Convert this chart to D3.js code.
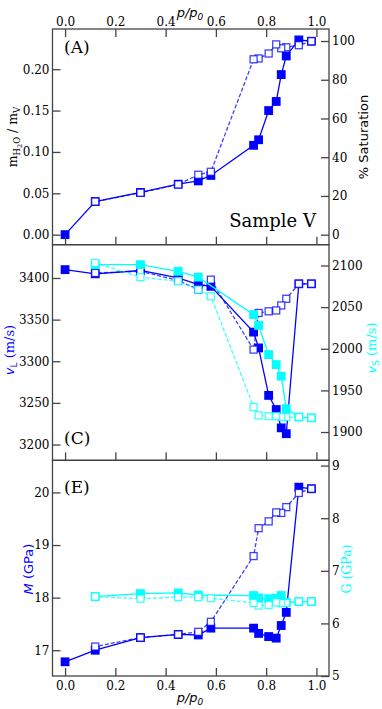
<!DOCTYPE html>
<html><head><meta charset="utf-8">
<script src="https://cdn.jsdelivr.net/npm/d3@7"></script>
<style>
body{margin:0;background:#fff;}
svg{display:block;}
text{fill:#000;}
</style></head>
<body>
<svg id="chart" width="382" height="709"></svg>
<script>
// ---------- data ----------
const pAds = [0, 0.12, 0.30, 0.45, 0.53, 0.58, 0.75, 0.77, 0.81, 0.84, 0.86, 0.88, 0.93, 0.98];
const pDes = [0.98, 0.93, 0.88, 0.86, 0.84, 0.81, 0.77, 0.75, 0.58, 0.53, 0.45, 0.30, 0.12];
const pShearAds = [0.12, 0.30, 0.45, 0.53, 0.75, 0.77, 0.81, 0.84, 0.86, 0.88, 0.93, 0.98];

const massAds = [0, 0.040, 0.051, 0.061, 0.065, 0.0716, 0.108, 0.1147, 0.150, 0.161, 0.1935, 0.216, 0.2354, 0.2338];
const massDes = [0.2338, 0.229, 0.2266, 0.2253, 0.230, 0.219, 0.213, 0.212, 0.076, 0.0724, 0.0607, 0.0507, 0.040];

const vLAds = [3410, 3405, 3409, 3400, 3392, 3390, 3335, 3316, 3259, 3242, 3220, 3213, 3393, 3393];
const vLDes = [3393, 3393, 3375, 3367, 3361, 3360, 3358, 3314, 3398, 3386, 3397, 3408, 3406];
const vSAds = [2101, 2101, 2093, 2086, 2041, 2028, 1993, 1981, 1967, 1928, 1918, 1917];
const vSDes = [1917, 1918, 1918, 1918, 1919, 1919, 1920, 1930, 2063, 2071, 2081, 2086, 2103];

const MAds = [16.78, 17.00, 17.24, 17.30, 17.29, 17.42, 17.42, 17.32, 17.26, 17.23, 17.47, 17.72, 20.10, 20.07];
const MDes = [20.07, 19.99, 19.72, 19.61, 19.62, 19.45, 19.32, 18.79, 17.54, 17.35, 17.30, 17.24, 17.07];
const GAds = [6.51, 6.566, 6.58, 6.54, 6.53, 6.485, 6.47, 6.48, 6.53, 6.40, 6.415, 6.415];
const GDes = [6.415, 6.415, 6.39, 6.385, 6.40, 6.35, 6.34, 6.39, 6.48, 6.50, 6.50, 6.47, 6.51];

const xTicks = [0.0, 0.2, 0.4, 0.6, 0.8, 1.0];
const massTicks = [0.00, 0.05, 0.10, 0.15, 0.20];
const satTicks = [0, 20, 40, 60, 80, 100];
const vLTicks = [3200, 3250, 3300, 3350, 3400];
const vSTicks = [1900, 1950, 2000, 2050, 2100];
const MTicks = [17, 18, 19, 20];
const GTicks = [5, 6, 7, 8, 9];

// ---------- layout ----------
const svg = d3.select("#chart");
const L = 52.5, R = 329, T = 29, H = 215.67;
const BLUE = "#0000ff", CYAN = "#00ffff", FRAME = "#444";
const SERIF = "'DejaVu Serif', serif", SANS = "'DejaVu Sans', sans-serif";

const x = d3.scaleLinear().domain([-0.05, 1.05]).range([L, R]);

function panel(i, leftDomain, rightDomain) {
  const top = T + i * H, bot = top + H;
  return {
    top, bot,
    yl: d3.scaleLinear().domain(leftDomain).range([bot, top]),
    yr: d3.scaleLinear().domain(rightDomain).range([bot, top])
  };
}
const pA = panel(0, [-0.0121, 0.2486], [-5.15, 106.2]);
const pC = panel(1, [3181, 3440], [1866, 2125]);
const pE = panel(2, [16.51, 20.61], [5, 9.1]);

function styleAxis(g, fontSize) {
  g.select(".domain").remove();
  g.selectAll(".tick line").attr("stroke", FRAME).attr("stroke-width", 1.3);
  g.selectAll(".tick text").attr("font-family", SERIF).attr("font-size", fontSize).attr("fill", "#000");
}

function drawAxes(p, opt) {
  const TS = 8;
  // left
  const gl = svg.append("g").attr("transform", `translate(${L},0)`)
    .call(d3.axisLeft(p.yl).tickValues(opt.lt).tickFormat(opt.lf).tickSize(-TS).tickPadding(3));
  styleAxis(gl, 12);
  const gr = svg.append("g").attr("transform", `translate(${R},0)`)
    .call(d3.axisRight(p.yr).tickValues(opt.rt).tickFormat(opt.rf).tickSize(-TS).tickPadding(3));
  styleAxis(gr, 12);
  // bottom ticks (inward)
  const gb = svg.append("g").attr("transform", `translate(0,${p.bot})`)
    .call(d3.axisBottom(x).tickValues(xTicks).tickFormat(opt.bottomLabels ? d3.format(".1f") : "").tickSize(-TS).tickPadding(5));
  styleAxis(gb, 12);
  if (opt.topTicks) {
    const gt = svg.append("g").attr("transform", `translate(0,${p.top})`)
      .call(d3.axisTop(x).tickValues(xTicks).tickFormat(d3.format(".1f")).tickSize(-TS).tickPadding(3));
    styleAxis(gt, 12);
  }
}

function sq(g, data, px, py, fill, stroke, opacity, size) {
  g.selectAll(null).data(data).enter().append("rect")
    .attr("x", d => px(d) - size / 2).attr("y", d => py(d) - size / 2)
    .attr("width", size).attr("height", size)
    .attr("fill", fill).attr("stroke", stroke).attr("stroke-width", 1.3)
    .attr("stroke-opacity", opacity);
}

function series(g, ps, vs, yScale, color, filled) {
  const idx = d3.range(ps.length);
  const line = d3.line().x(i => x(ps[i])).y(i => yScale(vs[i]));
  g.append("path").attr("d", line(idx)).attr("fill", "none")
    .attr("stroke", color).attr("stroke-width", 1.3)
    .attr("stroke-opacity", filled ? 1 : 0.75)
    .attr("stroke-dasharray", filled ? null : "4,2");
  if (filled) sq(g, idx, i => x(ps[i]), i => yScale(vs[i]), color, color, 1, 7.5);
  else sq(g, idx, i => x(ps[i]), i => yScale(vs[i]), "#fff", color, 0.75, 7);
}

// ---------- Panel A ----------
const gA = svg.append("g");
series(gA, pAds, massAds, pA.yl, BLUE, true);
series(gA, pDes, massDes, pA.yl, BLUE, false);
drawAxes(pA, { lt: massTicks, lf: d3.format(".2f"), rt: satTicks, rf: d3.format("d"), topTicks: true, bottomLabels: false });

// ---------- Panel C ----------
const gC = svg.append("g");
series(gC, pAds, vLAds, pC.yl, BLUE, true);
series(gC, pDes, vLDes, pC.yl, BLUE, false);
series(gC, pShearAds, vSAds, pC.yr, CYAN, true);
series(gC, pDes, vSDes, pC.yr, CYAN, false);
drawAxes(pC, { lt: vLTicks, lf: d3.format("d"), rt: vSTicks, rf: d3.format("d"), topTicks: false, bottomLabels: false });

// ---------- Panel E ----------
const gE = svg.append("g");
series(gE, pAds, MAds, pE.yl, BLUE, true);
series(gE, pDes, MDes, pE.yl, BLUE, false);
series(gE, pShearAds, GAds, pE.yr, CYAN, true);
series(gE, pDes, GDes, pE.yr, CYAN, false);
drawAxes(pE, { lt: MTicks, lf: d3.format("d"), rt: GTicks, rf: d3.format("d"), topTicks: false, bottomLabels: true });

// frames
[pA, pC, pE].forEach(p => {
  svg.append("rect").attr("x", L).attr("y", p.top).attr("width", R - L).attr("height", H)
    .attr("fill", "none").attr("stroke", FRAME).attr("stroke-width", 1.3);
});

// ---------- texts ----------
function label(txt, px, py, size, family) {
  return svg.append("text").attr("x", px).attr("y", py).attr("font-size", size)
    .attr("font-family", family).text(txt);
}
label("(A)", 64, 53, 17, SERIF);
label("(C)", 64, 444, 17, SERIF);
label("(E)", 64, 493, 17, SERIF);
label("Sample V", 316, 227, 18, SERIF).attr("text-anchor", "end");

// p/p0 labels
function ppLabel(cx, cy) {
  const t = svg.append("text").attr("x", cx).attr("y", cy).attr("text-anchor", "middle")
    .attr("font-family", SANS).attr("font-size", 13).attr("font-style", "italic");
  t.append("tspan").text("p/p");
  t.append("tspan").attr("font-size", 9).attr("dy", 3).text("0");
}
ppLabel(190, 17);
ppLabel(190, 702);

// left label A
{
  const t = svg.append("text").attr("transform", "translate(17,137) rotate(-90)")
    .attr("text-anchor", "middle").attr("font-family", SERIF).attr("font-size", 12.5);
  t.append("tspan").text("m");
  t.append("tspan").attr("font-size", 8.5).attr("dy", 3).text("H");
  t.append("tspan").attr("font-size", 6.5).attr("dy", 1.5).text("2");
  t.append("tspan").attr("font-size", 8.5).attr("dy", -1.5).text("O");
  t.append("tspan").attr("dy", -3).text(" / m");
  t.append("tspan").attr("font-size", 8.5).attr("dy", 3).text("V");
}
svg.append("text").attr("transform", "translate(368,137) rotate(-90)")
  .attr("text-anchor", "middle").attr("font-family", SANS).attr("font-size", 13)
  .text("% Saturation");

// panel C labels
function vLabel(tx, ty, main, sub, color) {
  const t = svg.append("text").attr("transform", `translate(${tx},${ty}) rotate(-90)`)
    .attr("text-anchor", "middle").attr("font-family", SERIF).attr("font-size", 13)
    .style("fill", color);
  t.append("tspan").attr("font-family", SANS).attr("font-style", "italic").text(main);
  t.append("tspan").attr("font-size", 9).attr("dy", 3).attr("font-family", SANS).text(sub);
  t.append("tspan").attr("dy", -3).text(" (m/s)");
}
vLabel(14, 350, "v", "L", BLUE);
vLabel(376, 348, "v", "S", CYAN);

// panel E labels
{
  const t = svg.append("text").attr("transform", "translate(33,569) rotate(-90)")
    .attr("text-anchor", "middle").attr("font-family", SANS).attr("font-size", 13).style("fill", BLUE);
  t.append("tspan").attr("font-style", "italic").text("M");
  t.append("tspan").text(" (GPa)");
  svg.append("text").attr("transform", "translate(351,569) rotate(-90)")
    .attr("text-anchor", "middle").attr("font-family", SERIF).attr("font-size", 12.5).style("fill", CYAN)
    .text("G (GPa)");
}
</script>
</body></html>
